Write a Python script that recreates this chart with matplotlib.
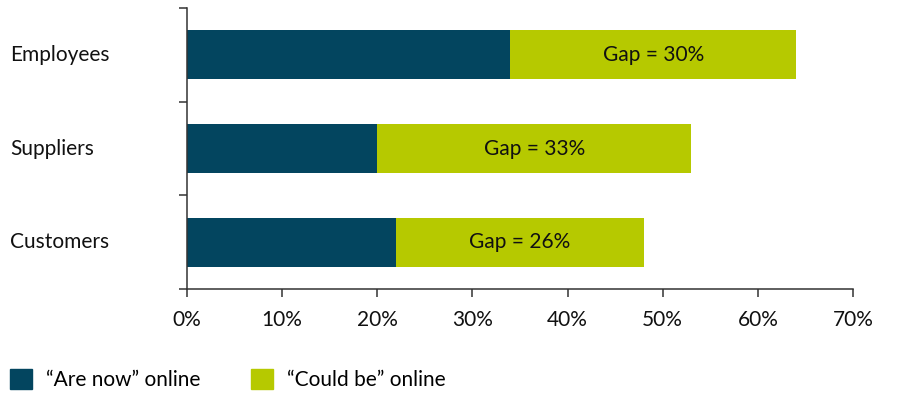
import matplotlib.pyplot as plt
from matplotlib.patches import Patch
from matplotlib.transforms import blended_transform_factory
from matplotlib.ticker import MultipleLocator, FuncFormatter

plt.rcParams['font.family'] = ['Lato', 'DejaVu Sans']

# data
groups = ['Employees', 'Suppliers', 'Customers']
are_now = [34, 20, 22]
could_be = [64, 53, 48]
gaps = [c - a for a, c in zip(are_now, could_be)]

dark = '#03455f'
green = '#b6c900'
fs = 15

fig = plt.figure(figsize=(8.98, 3.94), dpi=100)
ax = fig.add_axes([187 / 898, 1 - 289 / 394, (853 - 187) / 898, (289 - 8) / 394])

ypos = [2, 1, 0]
ax.barh(ypos, are_now, height=0.52, color=dark)
ax.barh(ypos, gaps, left=are_now, height=0.52, color=green)

for y, a, g in zip(ypos, are_now, gaps):
    ax.text(a + g / 2, y, f'Gap = {g}%', ha='center', va='center', fontsize=fs, color='#111111')

ax.set_xlim(0, 70)
ax.set_ylim(-0.5, 2.5)
ax.xaxis.set_major_locator(MultipleLocator(10))
ax.xaxis.set_major_formatter(FuncFormatter(lambda v, p: f'{v:.0f}%'))
ax.set_yticks([-0.5, 0.5, 1.5, 2.5])
ax.set_yticklabels([])

for s in ['top', 'right']:
    ax.spines[s].set_visible(False)
for s in ['left', 'bottom']:
    ax.spines[s].set_color('#333333')
    ax.spines[s].set_linewidth(1.1)
ax.tick_params(axis='both', colors='#333333', width=1.1, length=6, labelcolor='#111111')
ax.tick_params(axis='x', labelsize=fs, pad=9)

# category labels, left-aligned at the figure edge
trans = blended_transform_factory(fig.transFigure, ax.transData)
for y, name in zip(ypos, groups):
    ax.text(10 / 898, y, name, transform=trans, ha='left', va='center',
            fontsize=fs, color='#111111')

handles = [Patch(color=dark), Patch(color=green)]
fig.legend(handles, ['\u201cAre now\u201d online', '\u201cCould be\u201d online'],
           loc='lower left', bbox_to_anchor=(10 / 898, 4 / 394), ncol=2, frameon=False,
           borderpad=0, borderaxespad=0,
           fontsize=fs, handlelength=1.05, handleheight=1.05, handletextpad=0.7,
           columnspacing=2.4)

fig.savefig('out.png', dpi=100)
